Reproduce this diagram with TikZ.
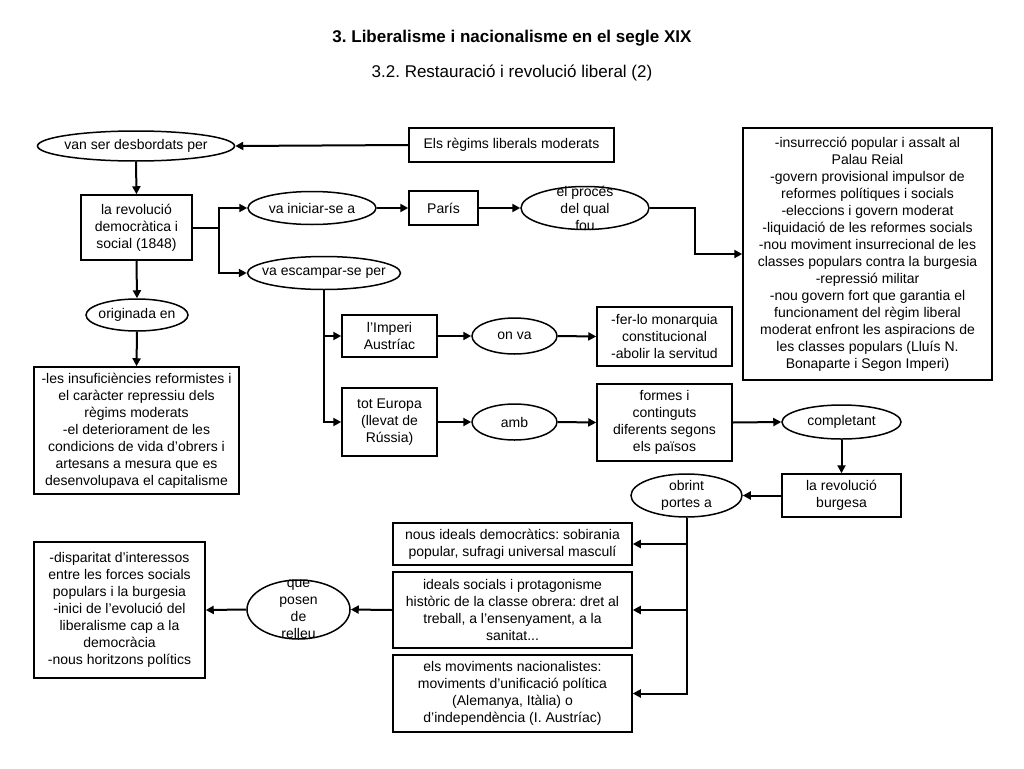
\documentclass[tikz,border=0pt]{standalone}
\usepackage{fontspec}
\setmainfont{Liberation Sans}
\usetikzlibrary{arrows.meta,shapes.geometric}
\begin{document}
\frenchspacing
\begin{tikzpicture}[x=1pt,y=-1pt,
  every node/.style={font=\fontsize{14}{17}\selectfont\frenchspacing},
  box/.style={draw, line width=1.5pt, rectangle, align=center, inner sep=2pt},
  oval/.style={draw, line width=1.5pt, ellipse, inner sep=0pt},
  lbl/.style={align=center, inner sep=0pt, draw=none, anchor=center},
  lblone/.style={inner sep=0pt, draw=none, anchor=center},
  conn/.style={line width=2pt, -{Triangle[length=8pt,width=8pt]}},
  plain/.style={line width=2pt}]
\useasboundingbox (0,0) rectangle (1024,768);
\fill[white] (0,0) rectangle (1024,768);

% titles
\node[font=\fontsize{17}{20}\selectfont\bfseries\frenchspacing] (title) at (512,38) {3. Liberalisme i nacionalisme en el segle XIX};
\node[font=\fontsize{17}{20}\selectfont\frenchspacing] (subtitle) at (512,73) {3.2. Restauració i revolució liberal (2)};

% nodes
\node[oval, minimum width=197pt, minimum height=30pt, label={[lblone]center:van ser desbordats per}] (edesb) at (136,146) {};
\node[box, minimum width=205pt, minimum height=34pt] (bregims) at (511.5,145) {Els règims liberals moderats};
\node[box, minimum width=111pt, minimum height=65pt] (brev) at (136.5,227.5) {la revolució\\democràtica i\\social (1848)};
\node[oval, minimum width=128pt, minimum height=33pt, label={[lblone]center:va iniciar-se a}] (einic) at (312,208) {};
\node[oval, minimum width=153pt, minimum height=33pt, label={[lblone]center:va escampar-se per}] (eesc) at (324,273) {};
\node[box, minimum width=69pt, minimum height=34pt] (bparis) at (443.5,208) {París};
\node[oval, minimum width=128pt, minimum height=43pt, label={[lbl]center:el procés\\del qual\\fou}] (eproc) at (585,208) {};
\node[box, minimum width=249pt, minimum height=252pt] (bright) at (867.5,254) {-insurrecció popular i assalt al\\Palau Reial\\-govern provisional impulsor de\\reformes polítiques i socials\\-eleccions i govern moderat\\-liquidació de les reformes socials\\-nou moviment insurrecional de les\\classes populars contra la burgesia\\-repressió militar\\-nou govern fort que garantia el\\funcionament del règim liberal\\moderat enfront les aspiracions de\\les classes populars (Lluís N.\\Bonaparte i Segon Imperi)};
\node[oval, minimum width=102pt, minimum height=32pt, label={[lblone]center:originada en}] (eorig) at (137,315) {};
\node[box, minimum width=205pt, minimum height=127pt] (binsuf) at (136.5,430.5) {-les insuficiències reformistes i\\el caràcter repressiu dels\\règims moderats\\-el deteriorament de les\\condicions de vida d’obrers i\\artesans a mesura que es\\desenvolupava el capitalisme};
\node[box, minimum width=95pt, minimum height=42pt] (bimp) at (389.5,336) {l’Imperi\\Austríac};
\node[oval, minimum width=85pt, minimum height=36pt, label={[lblone]center:on va}] (eonva) at (514.5,336) {};
\node[box, minimum width=135pt, minimum height=59pt] (bfer) at (664.5,336.5) {-fer-lo monarquia\\constitucional\\-abolir la servitud};
\node[box, minimum width=95pt, minimum height=68pt] (btot) at (389.5,422) {tot Europa\\(llevat de\\Rússia)};
\node[oval, minimum width=85pt, minimum height=36pt, label={[lblone]center:amb}] (eamb) at (514.5,422) {};
\node[box, minimum width=135pt, minimum height=77pt] (bformes) at (664.5,422.5) {formes i\\continguts\\diferents segons\\els països};
\node[oval, minimum width=119pt, minimum height=34pt, label={[lblone]center:completant}] (ecompl) at (841.5,422) {};
\node[box, minimum width=119pt, minimum height=43pt] (bburg) at (841.5,495.5) {la revolució\\burgesa};
\node[oval, minimum width=111pt, minimum height=43pt, label={[lbl]center:obrint\\portes a}] (eobr) at (686.5,495.5) {};
\node[box, minimum width=239pt, minimum height=42pt] (bnous) at (512.5,544) {nous ideals democràtics: sobirania\\popular, sufragi universal masculí};
\node[box, minimum width=239pt, minimum height=76pt] (bsoc) at (512.5,610) {ideals socials i protagonisme\\històric de la classe obrera: dret al\\treball, a l’ensenyament, a la\\sanitat...};
\node[box, minimum width=239pt, minimum height=77pt] (bnac) at (512.5,693.5) {els moviments nacionalistes:\\moviments d’unificació política\\(Alemanya, Itàlia) o\\d’independència (I. Austríac)};
\node[oval, minimum width=103pt, minimum height=59pt, label={[lbl]center:que\\posen\\de\\relleu}] (erelleu) at (298.5,609.5) {};
\node[box, minimum width=171pt, minimum height=136pt] (bdisp) at (119.5,610) {-disparitat d’interessos\\entre les forces socials\\populars i la burgesia\\-inici de l’evolució del\\liberalisme cap a la\\democràcia\\-nous horitzons polítics};

% junction coordinates
\coordinate (j1) at (219,227.5);
\coordinate (j2) at (695,208);

% connectors
\draw[conn] (bregims.west) -- (edesb.east);
\draw[conn] (edesb.south) -- (brev.north);
\draw[plain] (brev.east) -- (j1);
\draw[conn] (j1) |- (einic.west);
\draw[conn] (j1) |- (eesc.west);
\draw[conn] (einic.east) -- (bparis.west);
\draw[conn] (bparis.east) -- (eproc.west);
\draw[conn] (eproc.east) -- (j2) |- (bright.west);
\draw[conn] (brev.south) -- (eorig.north);
\draw[conn] (eorig.south) -- (binsuf.north);
\draw[conn] (eesc.south) |- (bimp.west);
\draw[conn] (eesc.south) |- (btot.west);
\draw[conn] (bimp.east) -- (eonva.west);
\draw[conn] (eonva.east) -- (bfer.west);
\draw[conn] (btot.east) -- (eamb.west);
\draw[conn] (eamb.east) -- (bformes.west);
\draw[conn] (bformes.east) -- (ecompl.west);
\draw[conn] (ecompl.south) -- (bburg.north);
\draw[conn] (bburg.west) -- (eobr.east);
\draw[conn] (eobr.south) |- (bnous.east);
\draw[conn] (eobr.south) |- (bsoc.east);
\draw[conn] (eobr.south) |- (bnac.east);
\draw[conn] (bsoc.west) -- (erelleu.east);
\draw[conn] (erelleu.west) -- (bdisp.east);
\end{tikzpicture}
\end{document}
